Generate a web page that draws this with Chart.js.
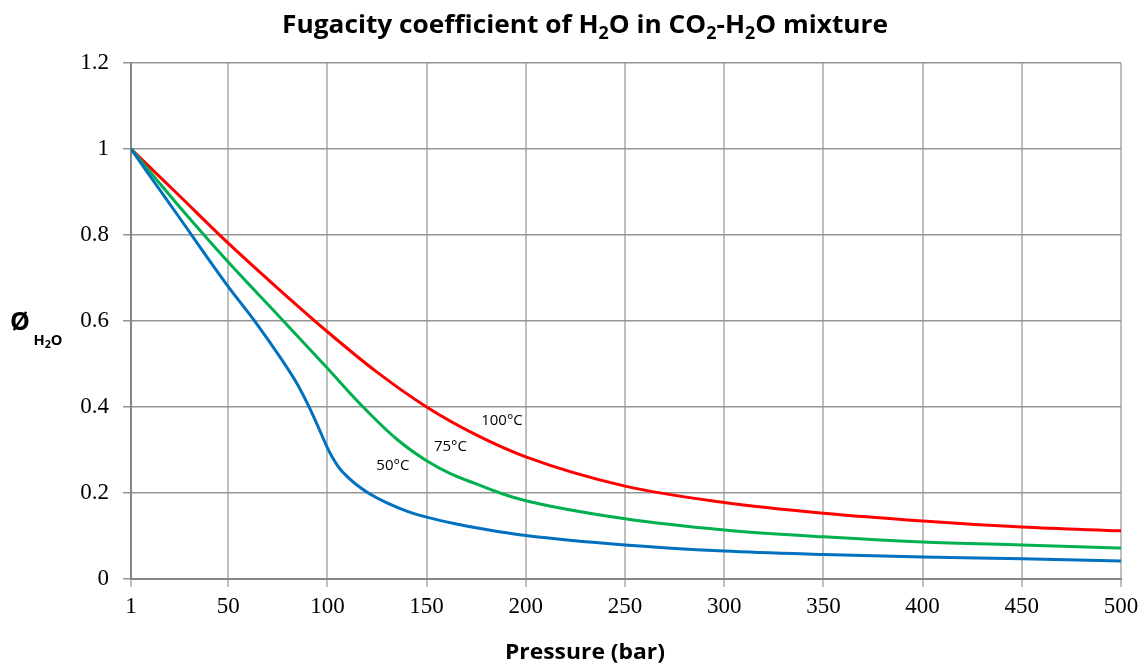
<!DOCTYPE html>
<html>
<head>
<meta charset="utf-8">
<script src="https://cdn.jsdelivr.net/npm/chart.js@4/dist/chart.umd.min.js"></script>
<style>
  html, body { margin: 0; padding: 0; background: #fff; }
  #wrap { width: 1147px; height: 669px; }
</style>
</head>
<body>
<div id="wrap"><canvas id="chart" width="1147" height="669"></canvas></div>
<script>
// pressure (bar) and fugacity coefficient of H2O for each temperature
var p50 = [1, 25, 50, 63, 77, 85, 91, 96, 100, 103, 106, 110, 115, 121, 130, 140, 150, 165, 180, 200, 250, 300, 350, 400, 450, 500];
var phi50 = [1.0, 0.843, 0.68, 0.602, 0.51, 0.452, 0.398, 0.347, 0.305, 0.279, 0.258, 0.238, 0.218, 0.199, 0.177, 0.158, 0.144, 0.128, 0.115, 0.101, 0.079, 0.065, 0.057, 0.051, 0.047, 0.042];

var p75 = [1, 25, 50, 75, 100, 118, 135, 150, 162, 175, 187, 200, 250, 300, 350, 400, 450, 500];
var phi75 = [1.0, 0.868, 0.737, 0.614, 0.49, 0.40, 0.325, 0.275, 0.245, 0.221, 0.2, 0.182, 0.140, 0.114, 0.098, 0.086, 0.079, 0.072];

var p100 = [1, 25, 50, 75, 100, 125, 150, 175, 200, 250, 300, 350, 400, 450, 500];
var phi100 = [1.0, 0.893, 0.781, 0.676, 0.575, 0.481, 0.40, 0.335, 0.284, 0.216, 0.178, 0.153, 0.135, 0.121, 0.112];

var xTicks = [1, 50, 100, 150, 200, 250, 300, 350, 400, 450, 500];

// curve labels: text, pressure, phi
var curveLabels = [
  ['100°C', 188, 0.367],
  ['75°C', 162, 0.307],
  ['50°C', 133, 0.263]
];

function pts(xs, ys) {
  return xs.map(function (x, i) { return { x: x, y: ys[i] }; });
}

function serie(label, xs, ys, color) {
  return {
    label: label,
    data: pts(xs, ys),
    borderColor: color,
    backgroundColor: color,
    borderWidth: 3,
    pointRadius: 0,
    fill: false,
    cubicInterpolationMode: 'monotone'
  };
}

// draws a run of [text, isSub] parts centered on cx, squeezed to width w
function drawParts(ctx, parts, cx, base, size, subSize, w) {
  var total = 0;
  parts.forEach(function (pt) {
    ctx.font = 'bold ' + (pt[1] ? subSize : size) + 'px "Open Sans"';
    total += ctx.measureText(pt[0]).width;
  });
  var sx = w ? w / total : 1;
  ctx.save();
  ctx.translate(cx - total * sx / 2, base);
  ctx.scale(sx, 1);
  var x = 0;
  parts.forEach(function (pt) {
    ctx.font = 'bold ' + (pt[1] ? subSize : size) + 'px "Open Sans"';
    ctx.fillText(pt[0], x, pt[1] ? size * 0.22 : 0);
    x += ctx.measureText(pt[0]).width;
  });
  ctx.restore();
}

var textPlugin = {
  id: 'texts',
  afterDraw: function (chart) {
    var ctx = chart.ctx;
    ctx.save();
    ctx.fillStyle = '#000';
    ctx.textBaseline = 'alphabetic';
    ctx.textAlign = 'left';

    // title
    drawParts(ctx, [['Fugacity coefficient of H', 0], ['2', 1], ['O in CO', 0], ['2', 1], ['-H', 0], ['2', 1], ['O mixture', 0]],
      585, 33, 25, 17, 606);

    // x axis title
    drawParts(ctx, [['Pressure (bar)', 0]], 585, 659, 22, 15, 160);

    // y axis title
    ctx.font = 'bold 25px "Open Sans"';
    ctx.fillText('Ø', 10, 330);
    drawParts(ctx, [['H', 0], ['2', 1], ['O', 0]], 48, 345, 15, 11, 29);

    // labels next to the curves
    var xs = chart.scales.x, ys = chart.scales.y;
    ctx.font = '15px "Open Sans"';
    ctx.textAlign = 'center';
    ctx.textBaseline = 'middle';
    curveLabels.forEach(function (l) {
      ctx.fillText(l[0], xs.getPixelForValue(l[1]), ys.getPixelForValue(l[2]));
    });
    ctx.restore();
  }
};

new Chart(document.getElementById('chart'), {
  type: 'line',
  data: {
    datasets: [
      serie('50°C', p50, phi50, '#0070C0'),
      serie('75°C', p75, phi75, '#00B050'),
      serie('100°C', p100, phi100, '#FF0000')
    ]
  },
  options: {
    responsive: false,
    animation: false,
    events: [],
    layout: { padding: { top: 63, right: 26, left: 0, bottom: 0 } },
    plugins: {
      legend: { display: false },
      tooltip: { enabled: false }
    },
    scales: {
      x: {
        type: 'linear',
        min: 1,
        max: 500,
        afterBuildTicks: function (scale) {
          scale.ticks = xTicks.map(function (v) { return { value: v }; });
        },
        afterFit: function (scale) { scale.height = 90; },
        grid: { color: '#bfbfbf', lineWidth: 2, tickLength: 8, drawTicks: true },
        border: { color: '#868686', width: 2 },
        ticks: {
          color: '#000',
          font: { family: '"Liberation Serif"', size: 23 },
          padding: 6,
          maxRotation: 0,
          autoSkip: false
        }
      },
      y: {
        min: 0,
        max: 1.2,
        afterFit: function (scale) { scale.width = 131; },
        grid: { color: '#959595', lineWidth: 1.5, tickLength: 8 },
        border: { color: '#868686', width: 2 },
        ticks: {
          stepSize: 0.2,
          color: '#000',
          font: { family: '"Liberation Serif"', size: 23 },
          padding: 14,
          callback: function (v) { return String(Number(v.toFixed(1))); }
        }
      }
    }
  },
  plugins: [textPlugin]
});
</script>
</body>
</html>
